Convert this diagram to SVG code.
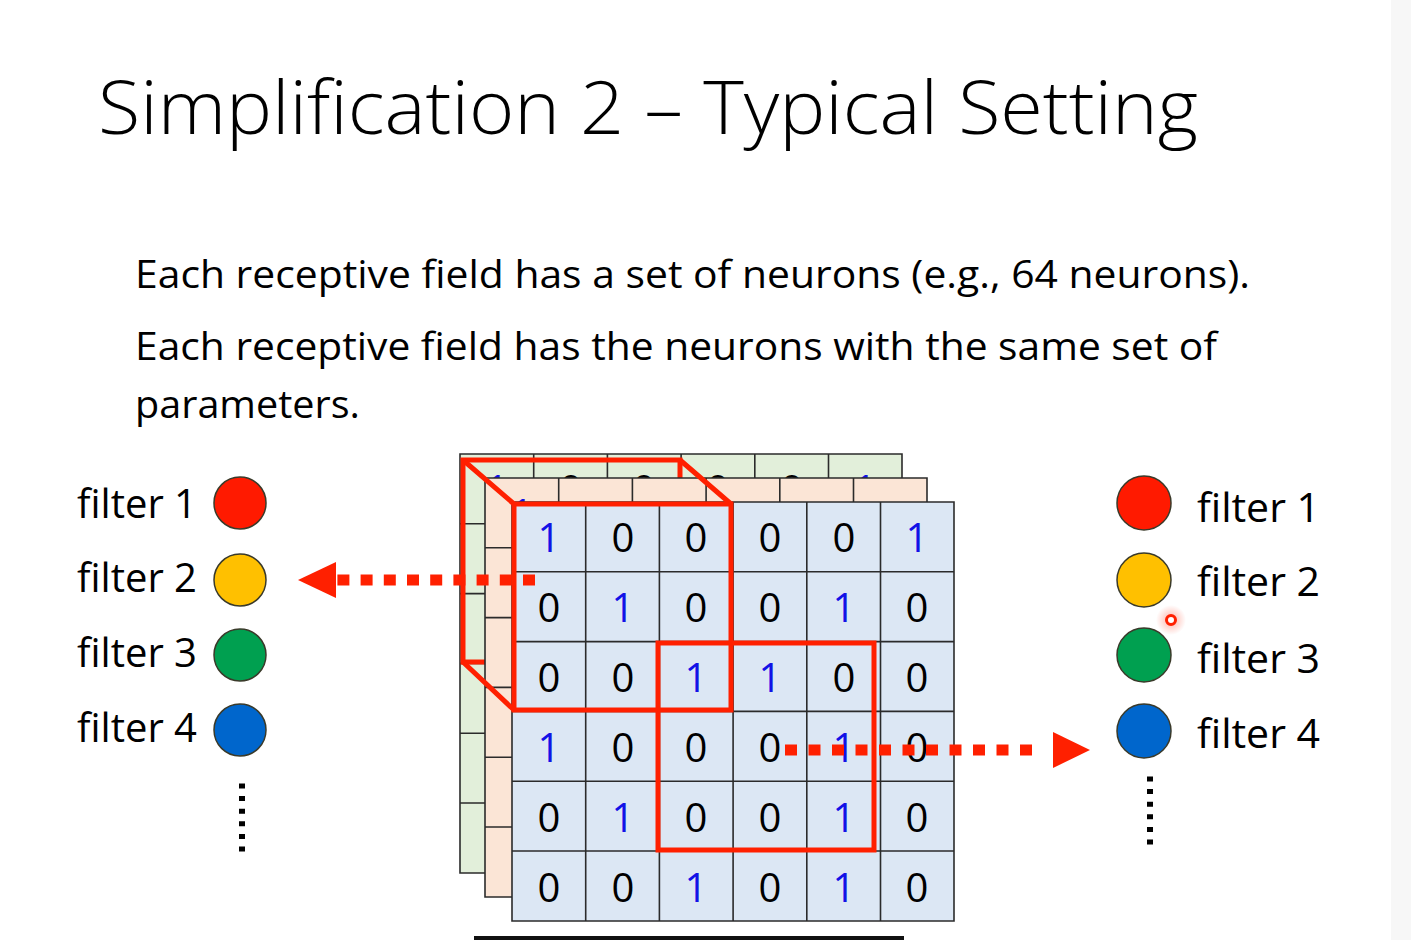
<svg xmlns="http://www.w3.org/2000/svg" width="1411" height="940" viewBox="0 0 1411 940">
<defs>
<style>
text{font-family:"Open Sans","Liberation Sans",sans-serif;fill:#000}
.title{font-size:74px;font-weight:300}
.body{font-size:39px}
.lbl{font-size:40px}
.d{font-size:40px;text-anchor:middle}
.b{fill:#1212E6}
.gl{fill:none;stroke:#2b2b2b;stroke-width:1.6}
.red{fill:none;stroke:#FF2000;stroke-width:5;stroke-linejoin:miter}
.dots{fill:none;stroke:#FF2000;stroke-width:11}
.vd{fill:none;stroke:#000;stroke-width:6}
.circ{stroke:#3a3a2a;stroke-width:1.5}
</style>
<radialGradient id="glow">
<stop offset="0" stop-color="#FF2000" stop-opacity="0.35"/>
<stop offset="1" stop-color="#FF2000" stop-opacity="0"/>
</radialGradient>
</defs>
<rect x="0" y="0" width="1411" height="940" fill="#FFFFFF"/>
<rect x="1391" y="0" width="20" height="940" fill="#F7F7F7"/>
<rect x="474" y="936" width="430" height="4" fill="#111111"/>

<g id="title"><text class="title" x="98" y="134" textLength="1100" lengthAdjust="spacingAndGlyphs">Simplification 2 – Typical Setting</text></g>
<g id="body">
<text class="body" x="135" y="288" textLength="1115" lengthAdjust="spacingAndGlyphs">Each receptive field has a set of neurons (e.g., 64 neurons).</text>
<text class="body" x="135" y="360" textLength="1082" lengthAdjust="spacingAndGlyphs">Each receptive field has the neurons with the same set of</text>
<text class="body" x="135" y="418" textLength="225" lengthAdjust="spacingAndGlyphs">parameters.</text>
</g>

<g id="grid-green">
<rect x="460" y="454" width="442" height="419" fill="#E2EFDA"/>
<path class="gl" d="M460,454H902V873H460Z M533.7,454V873 M607.4,454V873 M681.1,454V873 M754.8,454V873 M828.5,454V873 M460,523.8H902 M460,593.6H902 M460,663.4H902 M460,733.2H902 M460,803H902"/>
<text class="d b" x="497" y="504">1</text>
<text class="d" x="571" y="504">0</text>
<text class="d" x="644" y="504">0</text>
<text class="d" x="718" y="504">0</text>
<text class="d" x="792" y="504">0</text>
<text class="d b" x="865" y="504">1</text>
</g>
<g id="field-back"><rect class="red" x="463" y="460" width="217" height="202"/></g>
<g id="grid-orange">
<rect x="485" y="478" width="442" height="419" fill="#FBE5D6"/>
<path class="gl" d="M485,478H927V897H485Z M558.7,478V897 M632.4,478V897 M706.1,478V897 M779.8,478V897 M853.5,478V897 M485,547.8H927 M485,617.6H927 M485,687.4H927 M485,757.2H927 M485,827H927"/>
<text class="d b" x="522" y="528">1</text>
<text class="d" x="522" y="598">0</text>
<text class="d" x="522" y="668">0</text>
<text class="d b" x="522" y="738">1</text>
<text class="d" x="522" y="808">0</text>
<text class="d" x="522" y="878">0</text>
</g>
<g id="grid-front">
<rect x="512" y="502" width="442" height="419" fill="#DCE7F4"/>
<path class="gl" d="M512,502H954V921H512Z M585.7,502V921 M659.4,502V921 M733.1,502V921 M806.8,502V921 M880.5,502V921 M512,571.8H954 M512,641.6H954 M512,711.4H954 M512,781.2H954 M512,851H954"/>
<g>
<text class="d b" x="549" y="552">1</text><text class="d" x="623" y="552">0</text><text class="d" x="696" y="552">0</text><text class="d" x="770" y="552">0</text><text class="d" x="844" y="552">0</text><text class="d b" x="917" y="552">1</text>
<text class="d" x="549" y="622">0</text><text class="d b" x="623" y="622">1</text><text class="d" x="696" y="622">0</text><text class="d" x="770" y="622">0</text><text class="d b" x="844" y="622">1</text><text class="d" x="917" y="622">0</text>
<text class="d" x="549" y="692">0</text><text class="d" x="623" y="692">0</text><text class="d b" x="696" y="692">1</text><text class="d b" x="770" y="692">1</text><text class="d" x="844" y="692">0</text><text class="d" x="917" y="692">0</text>
<text class="d b" x="549" y="762">1</text><text class="d" x="623" y="762">0</text><text class="d" x="696" y="762">0</text><text class="d" x="770" y="762">0</text><text class="d b" x="844" y="762">1</text><text class="d" x="917" y="762">0</text>
<text class="d" x="549" y="832">0</text><text class="d b" x="623" y="832">1</text><text class="d" x="696" y="832">0</text><text class="d" x="770" y="832">0</text><text class="d b" x="844" y="832">1</text><text class="d" x="917" y="832">0</text>
<text class="d" x="549" y="902">0</text><text class="d" x="623" y="902">0</text><text class="d b" x="696" y="902">1</text><text class="d" x="770" y="902">0</text><text class="d b" x="844" y="902">1</text><text class="d" x="917" y="902">0</text>
</g>
</g>
<g id="field-front">
<rect class="red" x="514" y="504" width="217" height="206"/>
<path class="red" d="M463,460L514,504 M680,460L731,504 M463,662L514,710"/>
</g>
<g id="field-second"><rect class="red" x="658" y="643" width="216" height="207"/></g>

<g id="connectors">
<path class="dots" d="M535,580H337" stroke-dasharray="12 11.2"/>
<polygon points="298,580 336,562 336,598" fill="#FF2000"/>
<path class="dots" d="M785,750H1042" stroke-dasharray="12 11.5"/>
<polygon points="1053,732 1090,750 1053,768" fill="#FF2000"/>
</g>

<g id="left-filters">
<g id="lf1"><text class="lbl" x="77" y="518" textLength="120" lengthAdjust="spacingAndGlyphs">filter 1</text><circle class="circ" cx="240" cy="503" r="26" fill="#FF1A00"/></g>
<g id="lf2"><text class="lbl" x="77" y="592" textLength="120" lengthAdjust="spacingAndGlyphs">filter 2</text><circle class="circ" cx="240" cy="580" r="26" fill="#FFC000"/></g>
<g id="lf3"><text class="lbl" x="77" y="667" textLength="120" lengthAdjust="spacingAndGlyphs">filter 3</text><circle class="circ" cx="240" cy="655" r="26" fill="#00A050"/></g>
<g id="lf4"><text class="lbl" x="77" y="742" textLength="120" lengthAdjust="spacingAndGlyphs">filter 4</text><circle class="circ" cx="240" cy="730" r="26" fill="#0066CC"/></g>
<path class="vd" d="M242,783.5V851.5" stroke-dasharray="5 7.6"/>
</g>
<g id="right-filters">
<g id="rf1"><circle class="circ" cx="1144" cy="503" r="27" fill="#FF1A00"/><text class="lbl" x="1197" y="522" textLength="123" lengthAdjust="spacingAndGlyphs">filter 1</text></g>
<g id="rf2"><circle class="circ" cx="1144" cy="580" r="27" fill="#FFC000"/><text class="lbl" x="1197" y="596" textLength="123" lengthAdjust="spacingAndGlyphs">filter 2</text></g>
<g id="rf3"><circle class="circ" cx="1144" cy="655" r="27" fill="#00A050"/><text class="lbl" x="1197" y="673" textLength="123" lengthAdjust="spacingAndGlyphs">filter 3</text></g>
<g id="rf4"><circle class="circ" cx="1144" cy="731" r="27" fill="#0066CC"/><text class="lbl" x="1197" y="748" textLength="123" lengthAdjust="spacingAndGlyphs">filter 4</text></g>
<path class="vd" d="M1150,776.5V844.5" stroke-dasharray="5 7.6"/>
</g>
<g id="pointer">
<circle cx="1171" cy="620" r="15" fill="url(#glow)"/>
<circle cx="1171" cy="620" r="4.5" fill="#FFFFFF" stroke="#FF2000" stroke-width="3"/>
</g>
</svg>
